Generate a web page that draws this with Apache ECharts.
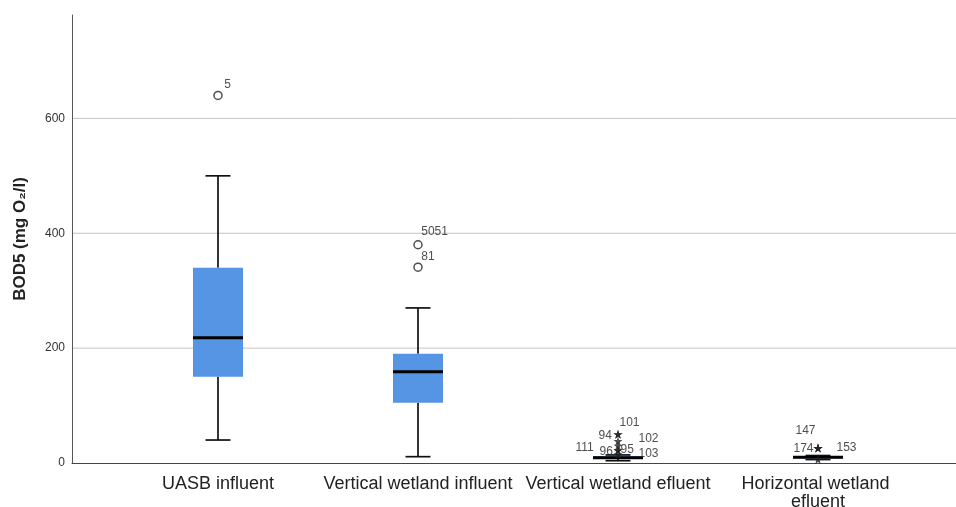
<!DOCTYPE html>
<html>
<head>
<meta charset="utf-8">
<script src="https://cdn.jsdelivr.net/npm/echarts@6/dist/echarts.min.js"></script>
<style>
  html, body { margin: 0; padding: 0; background: #fff; }
  #chart { width: 956px; height: 507px; }
</style>
</head>
<body>
<div id="chart"></div>
<script>
// categories and box statistics (mg O2/l)
const categories = ['UASB influent', 'Vertical wetland influent', 'Vertical wetland efluent', 'Horizontal wetland efluent'];
const whiskerLow = [40, 11, 4, 6];
const q1 = [150, 105, 7, 8];
const median = [218, 159, 9, 10];
const q3 = [340, 190, 12, 12];
const whiskerHigh = [500, 270, 14, 13];
const gridTicks = [200, 400, 600];

// outliers: [category index, value, case label]
const outliers = [[0, 640, '5'], [1, 380, '5051'], [1, 341, '81']];
// extreme values (stars)
const extremes = [
  [2, 50, '94'], [2, 50, '101'], [2, 38, '102'], [2, 30, '111'],
  [2, 22, '95'], [2, 22, '96'], [2, 15, '103'],
  [3, 26, '174'], [3, 26, '147'], [3, 26, '153'], [3, 6, '']
];

// label placement relative to the marker
const labelPos = {
  '5': [11, -12], '5051': [8, -14], '81': [8, -12],
  '94': [-15, 0], '101': [6, -13], '102': [25, -4], '111': [-38, 0],
  '95': [7, -2], '96': [-14, 0], '103': [25, -2],
  '174': [-20, -1], '147': [-18, -19], '153': [23, -2]
};

const boxData = categories.map((c, i) => [i, whiskerLow[i], q1[i], median[i], q3[i], whiskerHigh[i]]);

function pointItems(list) {
  return list.map(p => ({
    value: [p[0], p[1]],
    label: {
      show: p[2] !== '',
      formatter: p[2],
      position: labelPos[p[2]] || 'right'
    }
  }));
}

const FONT = 'Liberation Sans, Arial, sans-serif';
const STAR = 'path://M0,-10L2.35,-3.24L9.51,-3.09L3.8,1.24L5.88,8.09L0,4L-5.88,8.09L-3.8,1.24L-9.51,-3.09L-2.35,-3.24Z';

const chart = echarts.init(document.getElementById('chart'));
chart.setOption({
  animation: false,
  backgroundColor: '#fff',
  textStyle: { fontFamily: FONT },
  grid: [
    { left: 72, right: 0, top: 15, bottom: 44, outerBoundsMode: 'none' },
    { left: 118, right: 38, top: 15, bottom: 44, outerBoundsMode: 'none' }
  ],
  xAxis: [
    {
      gridIndex: 0, type: 'value', min: 0, max: 1,
      axisLine: { show: true, lineStyle: { color: '#444', width: 1 } },
      axisTick: { show: false }, axisLabel: { show: false }, splitLine: { show: false }
    },
    {
      gridIndex: 1, type: 'category', data: categories,
      axisLine: { show: false }, axisTick: { show: false },
      axisLabel: {
        interval: 0, margin: 12, color: '#222', fontSize: 18, fontFamily: FONT,
        lineHeight: 18, width: 196, overflow: 'break'
      }
    }
  ],
  yAxis: [
    {
      gridIndex: 0, type: 'value', min: 0, max: 780, interval: 200,
      axisLine: { show: true, lineStyle: { color: '#555', width: 1 } },
      axisTick: { show: false },
      axisLabel: { showMaxLabel: false, margin: 7, color: '#333', fontSize: 12, fontFamily: FONT },
      splitLine: { show: false },
      name: 'BOD5 (mg O\u2082/l)',
      nameLocation: 'middle',
      nameGap: 43,
      nameTextStyle: { fontSize: 17, fontWeight: 'bold', color: '#222', fontFamily: FONT }
    },
    { gridIndex: 1, type: 'value', min: 0, max: 780, show: false }
  ],
  series: [
    {
      // horizontal grid lines
      type: 'custom', xAxisIndex: 0, yAxisIndex: 0, silent: true, z: 1,
      data: gridTicks,
      renderItem: function (params, api) {
        const y = api.coord([0, api.value(0)])[1];
        const cs = params.coordSys;
        return {
          type: 'line',
          shape: { x1: cs.x + 1, y1: y, x2: cs.x + cs.width, y2: y },
          style: { stroke: '#c4c4c4', lineWidth: 1 }
        };
      }
    },
    {
      type: 'custom', xAxisIndex: 1, yAxisIndex: 1, z: 3,
      data: boxData,
      renderItem: function (params, api) {
        const x = api.value(0);
        const bw = api.size([1, 0])[0] * 0.25;
        const cw = bw / 2;
        const pLow = api.coord([x, api.value(1)]);
        const pQ1 = api.coord([x, api.value(2)]);
        const pMed = api.coord([x, api.value(3)]);
        const pQ3 = api.coord([x, api.value(4)]);
        const pHigh = api.coord([x, api.value(5)]);
        const cx = pMed[0];
        const ln = { stroke: '#111', lineWidth: 1.7 };
        return {
          type: 'group',
          children: [
            { type: 'line', shape: { x1: cx, y1: pLow[1], x2: cx, y2: pQ1[1] }, style: ln },
            { type: 'line', shape: { x1: cx, y1: pQ3[1], x2: cx, y2: pHigh[1] }, style: ln },
            { type: 'line', shape: { x1: cx - cw / 2, y1: pLow[1], x2: cx + cw / 2, y2: pLow[1] }, style: ln },
            { type: 'line', shape: { x1: cx - cw / 2, y1: pHigh[1], x2: cx + cw / 2, y2: pHigh[1] }, style: ln },
            {
              type: 'rect',
              shape: { x: cx - bw / 2, y: pQ3[1], width: bw, height: pQ1[1] - pQ3[1] },
              style: { fill: '#5595e4' }
            },
            { type: 'line', shape: { x1: cx - bw / 2, y1: pMed[1], x2: cx + bw / 2, y2: pMed[1] }, style: { stroke: '#000', lineWidth: 3 } }
          ]
        };
      }
    },
    {
      type: 'scatter', xAxisIndex: 1, yAxisIndex: 1, z: 4,
      symbol: 'circle', symbolSize: 8,
      itemStyle: { color: '#fff', borderColor: '#222', borderWidth: 1.5 },
      label: { color: '#222', fontSize: 12, fontFamily: FONT },
      data: pointItems(outliers)
    },
    {
      type: 'scatter', xAxisIndex: 1, yAxisIndex: 1, z: 4,
      symbol: STAR, symbolSize: 9,
      itemStyle: { color: '#222' },
      label: { color: '#222', fontSize: 12, fontFamily: FONT },
      data: pointItems(extremes)
    }
  ]
});
</script>
</body>
</html>
